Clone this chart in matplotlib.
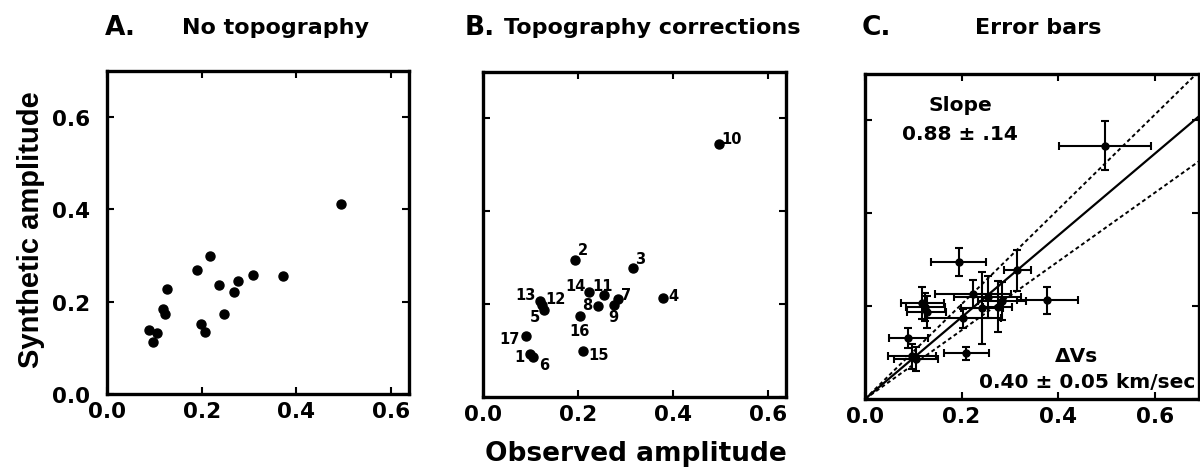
import matplotlib
matplotlib.use("Agg")
import matplotlib.pyplot as plt
import numpy as np

# ── data ─────────────────────────────────────────────────────────────
# panel A: no topography (observed, synthetic)
obs_a = [0.088, 0.106, 0.097, 0.118, 0.123, 0.127, 0.190, 0.218, 0.199,
         0.206, 0.236, 0.248, 0.269, 0.277, 0.308, 0.372, 0.495]
syn_a = [0.139, 0.132, 0.113, 0.185, 0.173, 0.227, 0.269, 0.299, 0.151,
         0.135, 0.236, 0.173, 0.222, 0.245, 0.258, 0.256, 0.411]

# panels B/C: topography corrections, stations 1..17
stations = [str(i) for i in range(1, 18)]
obs_b = [0.098, 0.194, 0.315, 0.378, 0.128, 0.106, 0.284, 0.242, 0.275,
         0.497, 0.254, 0.125, 0.119, 0.224, 0.210, 0.204, 0.090]
syn_b = [0.092, 0.295, 0.277, 0.213, 0.187, 0.086, 0.211, 0.196, 0.199,
         0.546, 0.220, 0.199, 0.207, 0.226, 0.099, 0.174, 0.131]
xerr_c = [0.050, 0.057, 0.028, 0.064, 0.040, 0.045, 0.049, 0.044, 0.030,
          0.096, 0.070, 0.040, 0.045, 0.078, 0.047, 0.077, 0.040]
yerr_c = [0.027, 0.030, 0.045, 0.029, 0.035, 0.025, 0.040, 0.077, 0.055,
          0.052, 0.045, 0.030, 0.035, 0.030, 0.014, 0.020, 0.022]

slope, slope_err = 0.88, 0.14
ticks = [0.0, 0.2, 0.4, 0.6]
tick_labels = ["0.0", "0.2", "0.4", "0.6"]

# label offsets in pixels for the station numbers (layout only)
label_off = [(-10, -2), (8, 11), (8, 10), (11, 3), (-9, -6), (11, -7), (8, 5),
             (-11, 1), (0, -12), (13, 5), (-1, 9), (13, 6), (-14, 6), (-14, 7),
             (16, -3), (0, -14), (-16, -2)]

WIDE = "DejaVu Sans"        # the scan is stretched sideways, a wide face fits
SANS = "Liberation Sans"

fig = plt.figure(figsize=(12, 4.77), dpi=100)
W, H = 1200, 477


def px_axes(l, t, r, b):
    return fig.add_axes([l / W, 1 - b / H, (r - l) / W, (b - t) / H])


ax_a = px_axes(107, 72, 409, 395)
ax_b = px_axes(483, 73, 786, 398)
ax_c = px_axes(865, 75, 1199, 400)

for ax in (ax_a, ax_b, ax_c):
    ax.set_ylim(0, 0.70)
    ax.set_xticks(ticks)
    ax.set_xticklabels(tick_labels, fontsize=15.5, fontweight="bold", family=WIDE)
    ax.set_yticks(ticks)
    ax.tick_params(direction="in", length=5, width=1.5, top=True, right=True)
    ax.tick_params(axis="x", pad=5)
    ax.tick_params(axis="y", pad=12)
    for sp in ax.spines.values():
        sp.set_linewidth(2.4)
ax_a.set_xlim(0, 0.638)
ax_b.set_xlim(0, 0.638)
ax_c.set_xlim(0, 0.692)

ax_a.set_yticklabels(tick_labels, fontsize=15.5, fontweight="bold", family=WIDE)
ax_b.set_yticklabels([])
ax_c.set_yticklabels([])

# A
ax_a.plot(obs_a, syn_a, "o", color="black", markersize=6.5)

# B
ax_b.plot(obs_b, syn_b, "o", color="black", markersize=6.5)
for s, x, y, off in zip(stations, obs_b, syn_b, label_off):
    ax_b.annotate(s, (x, y), xytext=off, textcoords="offset pixels",
                  ha="center", va="center", fontsize=10.5, fontweight="bold",
                  family=WIDE)

# C
xx = np.array([0.0, 0.75])
ax_c.plot(xx, slope * xx, "-", color="black", lw=1.6)
ax_c.plot(xx, (slope + slope_err) * xx, color="black", lw=1.4, ls=(0, (2, 1.5)))
ax_c.plot(xx, (slope - slope_err) * xx, color="black", lw=1.4, ls=(0, (2, 1.5)))
ax_c.errorbar(obs_b, syn_b, xerr=xerr_c, yerr=yerr_c, fmt="o", color="black",
              markersize=5, elinewidth=1.5, capsize=3, capthick=1.5)
txt = dict(fontsize=14.5, fontweight="bold", family=WIDE)
ax_c.text(0.198, 0.635, "Slope", ha="center", va="center", **txt)
ax_c.text(0.196, 0.572, "0.88 \u00b1 .14", ha="center", va="center", **txt)
ax_c.text(0.438, 0.093, "\u0394Vs", ha="center", va="center", **txt)
ax_c.text(0.684, 0.038, "0.40 \u00b1 0.05 km/sec", ha="right", va="center",
          bbox=dict(facecolor="white", edgecolor="none", pad=0.5), **txt)

# titles
for x, s in [(105, "A."), (465, "B."), (862, "C.")]:
    fig.text(x / W, 1 - 35 / H, s, ha="left", va="baseline", fontsize=19,
             fontweight="bold", family=WIDE)
for x, s in [(276, "No topography"), (652, "Topography corrections"),
             (1038, "Error bars")]:
    fig.text(x / W, 1 - 34 / H, s, ha="center", va="baseline", fontsize=16,
             fontweight="bold", family=WIDE)

fig.text(31 / W, 1 - 230 / H, "Synthetic amplitude", rotation=90, ha="center",
         va="center", fontsize=21, fontweight="bold", family=SANS)
fig.text(636 / W, 1 - 461 / H, "Observed amplitude", ha="center", va="baseline",
         fontsize=19, fontweight="bold", family=WIDE)

fig.savefig("out.png", dpi=100)
